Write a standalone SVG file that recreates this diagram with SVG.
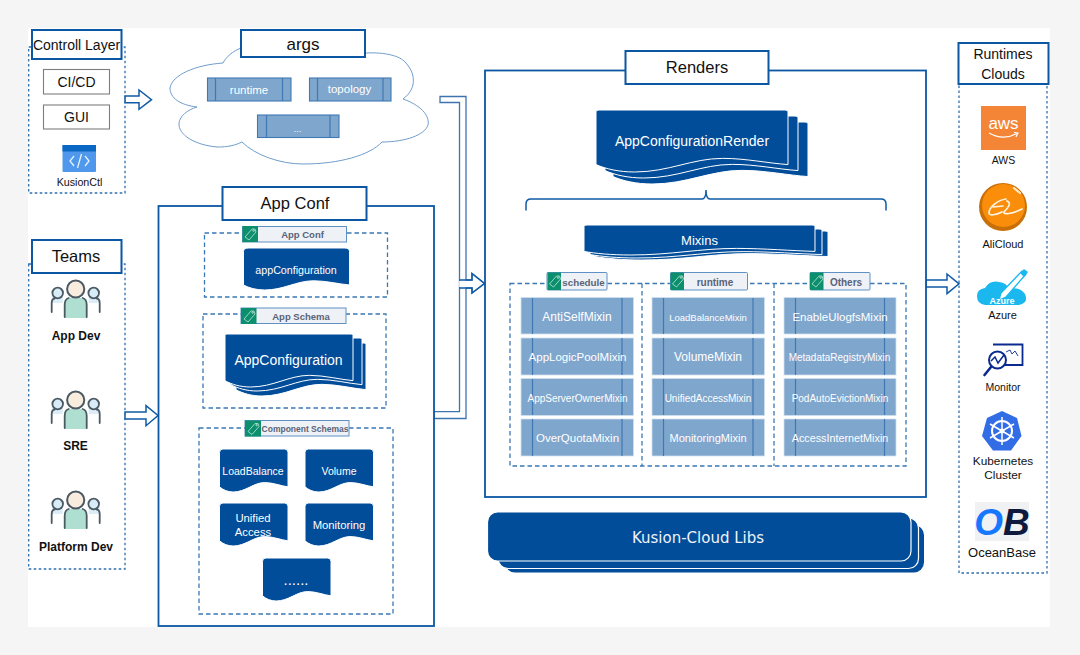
<svg xmlns="http://www.w3.org/2000/svg" width="1080" height="655" viewBox="0 0 1080 655">
<style>
text{font-family:"Liberation Sans",Arial,sans-serif;text-anchor:middle}
.title{fill:#fff;stroke:#0b57a4;stroke-width:2}
.t{fill:#111}
.w{fill:#fff}
.dash{fill:none;stroke:#3a78b5;stroke-width:1.3;stroke-dasharray:4.5 3}
.dash2{fill:none;stroke:#2f6fae;stroke-width:1.3;stroke-dasharray:2.6 2.4}
.cell{fill:#7fa6cd;stroke:#cfe0ef;stroke-width:.8}
.sl{stroke:#3f78b5;stroke-width:1.2}
.arg{fill:#7fa6cd;stroke:#3f78b5;stroke-width:1.1}
.doc{fill:#024d9a;stroke:#fff;stroke-width:1;vector-effect:non-scaling-stroke}
.block{fill:#fff;stroke:#0f5ba6;stroke-width:1.5;stroke-linejoin:miter}
.taglab{fill:#5a6378;font-weight:700}
.tagbox{fill:#eef1f6;stroke:#5f91c5;stroke-width:1}
.tagg{fill:#0b8f6c}
.tagi{fill:none;stroke:#bfe6da;stroke-width:.8}
.box{fill:#fff;stroke:#7c7f82;stroke-width:1.1}
.frame{fill:#fff;stroke:#0b57a4;stroke-width:1.8}
.pl{stroke:#4b5963;stroke-width:1.8;stroke-linecap:round}
</style>
<defs>
<path id="wave" class="doc" d="M0 3Q0 0 1.500 0H98.500Q100 0 100 3V88C90 86 78 78 66 78C50 78 38 100 20 100C12 100 5 95 0 88Z"/>
<path id="wave-s" class="doc" d="M0 8Q0 0 5 0H95Q100 0 100 8V88C90 86 78 78 66 78C50 78 38 100 20 100C12 100 5 95 0 88Z"/>
<g id="tagicon"><path class="tagi" d="M-5 3L2-5L5-5L6-2L-1 6Z"/><circle class="tagi" cx="3.6" cy="-3.4" r=".8"/></g>
<g id="person">
<path d="M-24 23V17Q-24 12-20 11L-13 11V23Z" fill="#dcedf7"/>
<path d="M24 23V17Q24 12 20 11L13 11V23Z" fill="#dcedf7"/>
<path d="M-11 38V26Q-11 18-5 18H5Q11 18 11 26V38Z" fill="#aedfd1"/>
<circle cx="-18" cy="13" r="5.3" fill="#d8ecf7" stroke="#4b5963" stroke-width="1.8"/>
<circle cx="18" cy="13" r="5.3" fill="#d8ecf7" stroke="#4b5963" stroke-width="1.8"/>
<circle cx="0" cy="9" r="8.6" fill="#f8ecdf" stroke="#4b5963" stroke-width="2"/>
<path class="pl" fill="none" d="M-24 32V23Q-24 19-21 18.500M24 32V23Q24 19 21 18.500M-11 37V25Q-11 19-7 18M11 37V25Q11 19 7 18"/>
</g>
</defs>

<rect width="1080" height="655" fill="#f5f5f5"/>
<rect x="28" y="28" width="1022" height="599" fill="#fff"/>

<g id="connectors">
<path class="block" d="M125 96H139V90L151.500 99.700L139 109.300V102.700H125Z"/>
<path class="block" d="M125 412H146V405.700L158 415.500L146 425.700V419H125Z"/>
<path class="block" d="M926 280H947V274L959 283.800L947 293.700V287H926Z"/>
<path fill="#fff" stroke="#3d74b0" stroke-width="1.3" d="M440 96.500H466V280H472V273.500L484.500 283.500L472 293V288H466V418.500H434V411.700H459.500V102.500H440Z"/>
<path fill="#fff" stroke="none" d="M459.200 281H472V287H459.200Z"/>
<path fill="none" stroke="#0f5ba6" stroke-width="1.500" d="M459.500 280H472V273.500L484.500 283.500L472 293V288H459.500"/>
</g>

<g id="control-layer">
<rect class="dash2" x="28.700" y="47" width="96.300" height="146"/>
<rect class="title" x="32" y="30" width="89.500" height="29"/>
<text class="t" x="76.500" y="50" font-size="14">Controll Layer</text>
</g>
<g id="cicd"><rect class="box" x="43.500" y="69.500" width="66" height="24.500"/><text class="t" x="76.500" y="87" font-size="14">CI/CD</text></g>
<g id="gui"><rect class="box" x="43.500" y="105" width="66" height="24"/><text class="t" x="76.500" y="122" font-size="14">GUI</text></g>
<g id="kusionctl">
<rect x="62.500" y="145" width="33.500" height="27" rx="1" fill="#4f98ec"/>
<rect x="62.500" y="145" width="33.500" height="6.500" fill="#0a68c4"/>
<path d="M74 156L70 161L74 166M85 156L89 161L85 166M81.500 154L77.500 168" fill="none" stroke="#e6f1fc" stroke-width="1.300"/>
<text class="t" x="79.500" y="186" font-size="10.700">KusionCtl</text>
</g>

<g id="args">
<path fill="#fff" stroke="#6f9dcd" stroke-width="1" d="M223 63C226 57 233 51 241 48C280 30 340 45 366 53C385 52 400 56 405 62C415 72 418 88 403 99C420 105 430 115 428 125C425 135 405 142 382 142C370 155 340 164 303 164C280 164 255 155 242 142C232 147 222 147 217 147C195 145 178 135 179 123C180 116 187 110 197 107C180 105 170 98 170 88C172 75 195 65 223 63Z"/>
<rect class="title" x="241" y="30" width="124" height="27"/>
<text class="t" x="303" y="50" font-size="17">args</text>
</g>
<g id="arg-runtime"><rect class="arg" x="207.500" y="78" width="83.500" height="23"/><path class="sl" d="M215.500 78V101M282.500 78V101"/><text class="w" x="249" y="94" font-size="11.500">runtime</text></g>
<g id="arg-topology"><rect class="arg" x="309.500" y="78" width="81.500" height="23"/><path class="sl" d="M317.500 78V101M383 78V101"/><text class="w" x="349.500" y="93" font-size="11.500">topology</text></g>
<g id="arg-more"><rect class="arg" x="257.500" y="115" width="81.500" height="22.500"/><path class="sl" d="M266.500 115V137.500M330 115V137.500"/><text class="w" x="297.500" y="132" font-size="9">...</text></g>

<g id="teams">
<rect class="dash2" x="28.700" y="264" width="96.300" height="305"/>
<rect class="title" x="32" y="240" width="89.500" height="33"/>
<text class="t" x="76" y="262" font-size="16.500">Teams</text>
</g>
<g id="app-dev"><use href="#person" transform="translate(75.700 280)"/><text class="t" x="76" y="340" font-size="12" font-weight="700">App Dev</text></g>
<g id="sre"><use href="#person" transform="translate(75.700 391)"/><text class="t" x="75.500" y="450" font-size="12" font-weight="700">SRE</text></g>
<g id="platform-dev"><use href="#person" transform="translate(75.700 491)"/><text class="t" x="76" y="551" font-size="12" font-weight="700">Platform Dev</text></g>

<g id="app-conf">
<rect class="frame" x="158.500" y="206" width="275.500" height="420"/>
<rect class="title" x="222.500" y="187" width="144" height="33"/>
<text class="t" x="295" y="209" font-size="16.500">App Conf</text>
</g>
<g id="app-conf-group">
<rect class="dash" x="204.500" y="233" width="183" height="64"/>
<rect class="tagbox" x="242.500" y="226.500" width="104" height="15.500"/>
<rect class="tagg" x="242.500" y="226" width="15.500" height="16"/><use href="#tagicon" transform="translate(250 234)"/>
<text class="taglab" x="302.500" y="238" font-size="9.500">App Conf</text>
</g>
<g id="appconfiguration">
<use href="#wave-s" transform="translate(243.500 248) scale(1.060 .42)"/>
<text class="w" x="296" y="273.500" font-size="10.700">appConfiguration</text>
</g>
<g id="app-schema-group">
<rect class="dash" x="203" y="314" width="183" height="94"/>
<rect class="tagbox" x="241" y="308" width="105" height="15.500"/>
<rect class="tagg" x="241" y="308" width="15.500" height="16"/><use href="#tagicon" transform="translate(249 316)"/>
<text class="taglab" x="301" y="320" font-size="9.500">App Schema</text>
</g>
<g id="appconfiguration-stack">
<use href="#wave" transform="translate(236 343) scale(1.300 .53)"/>
<use href="#wave" transform="translate(231 338) scale(1.310 .53)"/>
<use href="#wave" transform="translate(225 334) scale(1.280 .53)"/>
<text class="w" x="288.500" y="365" font-size="14">AppConfiguration</text>
</g>
<g id="component-schemas-group">
<rect class="dash" x="199" y="428" width="194" height="186"/>
<rect class="tagbox" x="245" y="420.500" width="104" height="15.500"/>
<rect class="tagg" x="245" y="420.500" width="16" height="16"/><use href="#tagicon" transform="translate(253 428.500)"/>
<text class="taglab" x="305" y="432" font-size="8.500">Component Schemas</text>
</g>
<g id="loadbalance"><use href="#wave-s" transform="translate(219.500 449) scale(.685 .43)"/><text class="w" x="253" y="475" font-size="10.500">LoadBalance</text></g>
<g id="volume"><use href="#wave-s" transform="translate(305 449) scale(.685 .43)"/><text class="w" x="339" y="475" font-size="10.500">Volume</text></g>
<g id="unified-access"><use href="#wave-s" transform="translate(219.500 503) scale(.685 .43)"/><text class="w" x="253" y="522" font-size="11.300">Unified</text><text class="w" x="253" y="536" font-size="11.300">Access</text></g>
<g id="monitoring"><use href="#wave-s" transform="translate(305 503) scale(.685 .43)"/><text class="w" x="339" y="529" font-size="11.300">Monitoring</text></g>
<g id="more-schemas"><use href="#wave-s" transform="translate(262.500 558) scale(.685 .43)"/><text class="w" x="296" y="585" font-size="15">......</text></g>

<g id="renders">
<rect class="frame" x="485" y="70.500" width="441" height="426.500"/>
<rect class="title" x="625.500" y="51" width="143" height="33"/>
<text class="t" x="697" y="73" font-size="16.500">Renders</text>
</g>
<g id="appconfigurationrender">
<use href="#wave" transform="translate(613 122) scale(1.950 .62)"/>
<use href="#wave" transform="translate(605 116) scale(1.930 .62)"/>
<use href="#wave" transform="translate(596 110) scale(1.920 .62)"/>
<text class="w" x="692" y="146" font-size="14">AppConfigurationRender</text>
</g>
<path id="brace" fill="none" stroke="#0f5ba6" stroke-width="1.500" d="M526 210.500V204Q526 199 531 199H702Q706 199 706 190Q706 199 710 199H881Q886 199 886 204V210.500"/>
<g id="mixins">
<use href="#wave" transform="translate(595 231) scale(2.330 .29)"/>
<use href="#wave" transform="translate(590 229) scale(2.320 .29)"/>
<use href="#wave" transform="translate(584 225) scale(2.310 .30)"/>
<text class="w" x="699.500" y="244.500" font-size="13">Mixins</text>
</g>
<g id="mixin-groups">
<rect class="dash" x="510" y="283.500" width="396" height="182.500"/>
<path class="dash" d="M642 283.500V466M774 283.500V466"/>
</g>
<g id="tag-schedule"><rect class="tagbox" x="547" y="272.500" width="60" height="17.500" rx="1"/><rect class="tagg" x="547.500" y="272.500" width="13.500" height="17.500"/><use href="#tagicon" transform="translate(554.500 281)"/><text class="taglab" x="583.500" y="286" font-size="9.800">schedule</text></g>
<g id="tag-runtime"><rect class="tagbox" x="670.500" y="272.500" width="77" height="17.500" rx="1"/><rect class="tagg" x="670.500" y="272.500" width="13.500" height="17.500"/><use href="#tagicon" transform="translate(677.500 281)"/><text class="taglab" x="715" y="286" font-size="10">runtime</text></g>
<g id="tag-others"><rect class="tagbox" x="810" y="272.500" width="60" height="17.500" rx="1"/><rect class="tagg" x="810" y="272.500" width="13.500" height="17.500"/><use href="#tagicon" transform="translate(817 281)"/><text class="taglab" x="846" y="286" font-size="10">Others</text></g>

<g id="anti-self-mixin"><rect class="cell" x="521" y="297.500" width="112.500" height="36.500"/><path class="sl" d="M532.500 298V334M622 298V334"/><text class="w" x="577" y="321" font-size="12">AntiSelfMixin</text></g>
<g id="app-logic-pool-mixin"><rect class="cell" x="521" y="338" width="112.500" height="37"/><path class="sl" d="M532.500 338V375M622 338V375"/><text class="w" x="577.500" y="361" font-size="11.500">AppLogicPoolMixin</text></g>
<g id="app-server-owner-mixin"><rect class="cell" x="521" y="378.500" width="112.500" height="37"/><path class="sl" d="M532.500 379V415M622 379V415"/><text class="w" x="577.500" y="402" font-size="10">AppServerOwnerMixin</text></g>
<g id="over-quota-mixin"><rect class="cell" x="521" y="419" width="112.500" height="37"/><path class="sl" d="M532.500 419V456M622 419V456"/><text class="w" x="577.500" y="442" font-size="11.500">OverQuotaMixin</text></g>

<g id="load-balance-mixin"><rect class="cell" x="652" y="297.500" width="112.500" height="36.500"/><path class="sl" d="M663.500 298V334M753 298V334"/><text class="w" x="708" y="321" font-size="9.500">LoadBalanceMixin</text></g>
<g id="volume-mixin"><rect class="cell" x="652" y="338" width="112.500" height="37"/><path class="sl" d="M663.500 338V375M753 338V375"/><text class="w" x="708" y="361" font-size="12">VolumeMixin</text></g>
<g id="unified-access-mixin"><rect class="cell" x="652" y="378.500" width="112.500" height="37"/><path class="sl" d="M663.500 379V415M753 379V415"/><text class="w" x="708" y="402" font-size="10">UnifiedAccessMixin</text></g>
<g id="monitoring-mixin"><rect class="cell" x="652" y="419" width="112.500" height="37"/><path class="sl" d="M663.500 419V456M753 419V456"/><text class="w" x="708" y="442" font-size="11">MonitoringMixin</text></g>

<g id="enable-ulogfs-mixin"><rect class="cell" x="784" y="297.500" width="112" height="36.500"/><path class="sl" d="M795.500 298V334M884.500 298V334"/><text class="w" x="840" y="321" font-size="11.500">EnableUlogfsMixin</text></g>
<g id="metadata-registry-mixin"><rect class="cell" x="784" y="338" width="112" height="37"/><path class="sl" d="M795.500 338V375M884.500 338V375"/><text class="w" x="839.500" y="361" font-size="10">MetadataRegistryMixin</text></g>
<g id="pod-auto-eviction-mixin"><rect class="cell" x="784" y="378.500" width="112" height="37"/><path class="sl" d="M795.500 379V415M884.500 379V415"/><text class="w" x="840" y="402" font-size="10">PodAutoEvictionMixin</text></g>
<g id="access-internet-mixin"><rect class="cell" x="784" y="419" width="112" height="37"/><path class="sl" d="M795.500 419V456M884.500 419V456"/><text class="w" x="840" y="442" font-size="10.800">AccessInternetMixin</text></g>

<g id="kusion-cloud-libs">
<rect x="505" y="525" width="419" height="47.500" rx="10" fill="#024d9a"/>
<rect x="498" y="518" width="420.500" height="50.500" rx="10" fill="#024d9a" stroke="#fff" stroke-width="1.200"/>
<rect x="487.500" y="512" width="423.500" height="49" rx="10" fill="#024d9a" stroke="#fff" stroke-width="1.200"/>
<text x="698" y="543" font-size="15" fill="#eef3f9" style="font-family:'DejaVu Sans',Verdana,sans-serif">Kusion-Cloud Libs</text>
</g>

<g id="runtimes-clouds">
<rect class="dash2" x="959" y="84" width="88" height="489"/>
<rect class="title" x="958.500" y="43" width="90" height="41"/>
<text class="t" x="1003" y="59" font-size="14">Runtimes</text>
<text class="t" x="1003" y="79" font-size="14">Clouds</text>
</g>
<g id="aws">
<rect x="981" y="106" width="45" height="44" fill="#f58536"/>
<text class="w" x="1003.500" y="129" font-size="17">aws</text>
<path d="M989 133Q1003 141 1017 133.500M1014 132.500L1018 133L1016 137" fill="none" stroke="#fff" stroke-width="1.200"/>
<text class="t" x="1003.500" y="164" font-size="10.500">AWS</text>
</g>
<g id="alicloud">
<circle cx="1003" cy="207" r="24" fill="#c96f08"/>
<circle cx="1003.500" cy="205.500" r="21.500" fill="#fa8d0a"/>
<path d="M1006 199C998 200 989 207 989 213C989 216 996 215 1002 212M993 207L1003 206M1007 201C1012 203 1008 208 1004 212C1003 215 1012 214 1022 209" fill="none" stroke="#fff4e3" stroke-width="1.700" stroke-linecap="round"/>
<path d="M1014 188L1020 193" stroke="#ffe9c9" stroke-width="2.200" stroke-linecap="round"/>
<text class="t" x="1003" y="248" font-size="11">AliCloud</text>
</g>
<g id="azure">
<path d="M985 305Q977 304 977 296Q977 289 985 288Q990 280 999 282Q1007 283 1009 289Q1019 286 1025 294Q1029 303 1019 305Z" fill="#1ab8ef"/>
<path d="M1001 293L1022 271L1026 274L1006 297L999 300Z" fill="#fff" stroke="#1ab8ef" stroke-width="1.300"/>
<path d="M1020 273L1024 269L1028 272L1024 277Z" fill="#1ab8ef"/>
<text class="w" x="1002" y="303.500" font-size="9" font-weight="700">Azure</text>
<text class="t" x="1002.500" y="319" font-size="11">Azure</text>
</g>
<g id="monitor">
<path d="M993 344.500H1022.500V365H1003" fill="none" stroke="#0a2a8f" stroke-width="1.800"/>
<circle cx="997.500" cy="360" r="8.500" fill="#fff" stroke="#0a2a8f" stroke-width="2"/>
<path d="M991 361L995 357L998 363L1004 355" fill="none" stroke="#0a2a8f" stroke-width="1.500"/>
<path d="M1006 352L1010 350L1012 354L1015 351L1018 356" fill="none" stroke="#0a2a8f" stroke-width=".9"/>
<path d="M991 367L984.500 375" stroke="#0a2a8f" stroke-width="2.600" stroke-linecap="round"/>
<text class="t" x="1003" y="391" font-size="10.500">Monitor</text>
</g>
<g id="kubernetes">
<path d="M1002 411L1017 418L1021.500 436L1011 450.500H993L982 436L987 418Z" fill="#326de6"/>
<circle cx="1002" cy="431" r="10" fill="none" stroke="#fff" stroke-width="2"/>
<circle cx="1002" cy="431" r="2.500" fill="#fff"/>
<path d="M1002 417V445M990 424L1014 438M1014 424L990 438" stroke="#fff" stroke-width="1.500"/>
<text class="t" x="1003" y="465" font-size="11.800">Kubernetes</text>
<text class="t" x="1003" y="479" font-size="11.800">Cluster</text>
</g>
<g id="oceanbase">
<rect x="975" y="502" width="54" height="39" fill="#f0f1f3"/>
<text x="1002" y="535" font-size="37" font-weight="700" font-style="italic"><tspan fill="#1677ff">O</tspan><tspan fill="#0e1a3d">B</tspan></text>
<text class="t" x="1002" y="557" font-size="13">OceanBase</text>
</g>
</svg>
